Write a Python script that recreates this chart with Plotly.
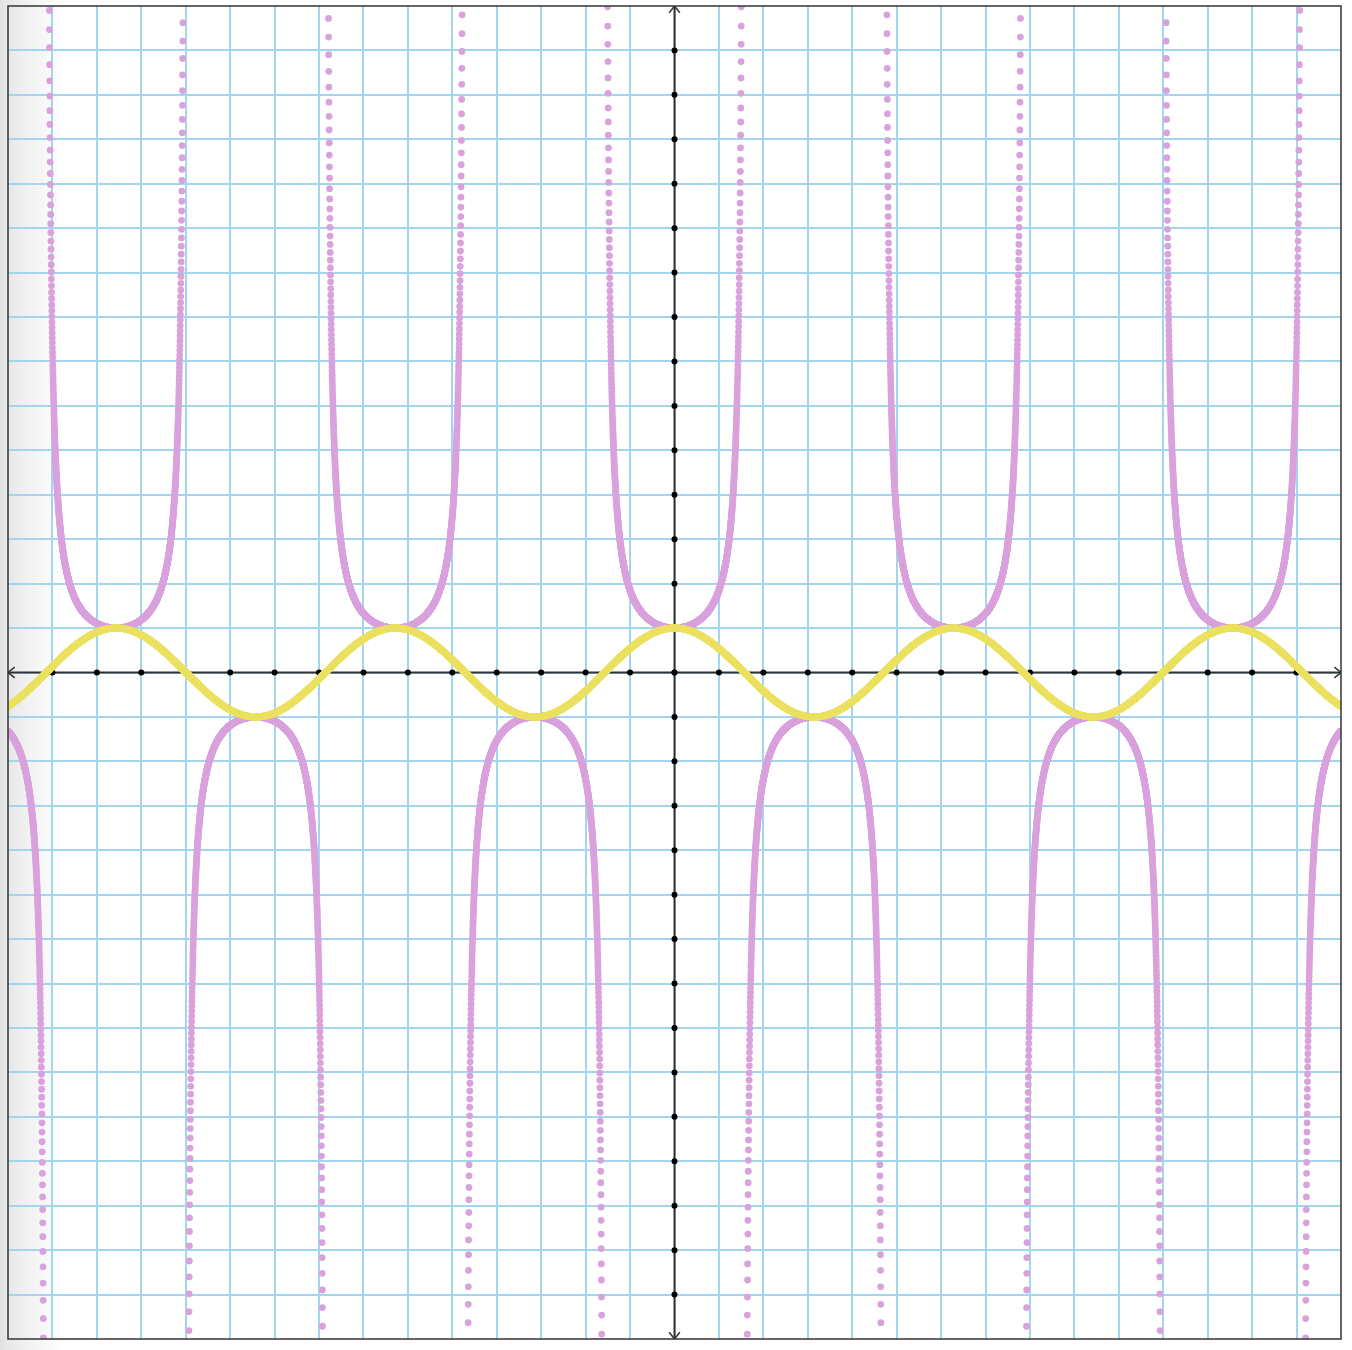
import numpy as np
import plotly.graph_objects as go

# ---- data ----
x_range = [-15, 15]
y_range = [-15, 15]
x_step = 0.002
x_vals = np.arange(x_range[0], x_range[1] + x_step / 2, x_step)
cos_vals = np.cos(x_vals)
with np.errstate(divide="ignore"):
    sec_vals = 1.0 / np.cos(x_vals)
keep = np.abs(sec_vals) < 16
sec_x = x_vals[keep]
sec_y = sec_vals[keep]
tick_positions = [i for i in range(-14, 15)]

# ---- styles ----
GRID = "#a3d6ee"
AXIS = "#333333"
PLUM = "#d9a2dd"
YELLOW = "#ebe162"

fig = go.Figure()

# axis tick dots
fig.add_trace(go.Scatter(x=tick_positions, y=[0] * len(tick_positions), mode="markers",
                         marker=dict(size=6, color="black"), hoverinfo="skip", showlegend=False))
fig.add_trace(go.Scatter(x=[0] * len(tick_positions), y=tick_positions, mode="markers",
                         marker=dict(size=6, color="black"), hoverinfo="skip", showlegend=False))

fig.add_trace(go.Scatter(x=sec_x, y=sec_y, mode="markers",
                         marker=dict(size=6.8, color=PLUM, line=dict(width=0)),
                         hoverinfo="skip", showlegend=False))
fig.add_trace(go.Scatter(x=x_vals, y=cos_vals, mode="markers",
                         marker=dict(size=6.8, color=YELLOW, line=dict(width=0)),
                         hoverinfo="skip", showlegend=False))

shapes = []
# page gradient on left
W = 1333.0
n = 32
for i in range(n):
    t = i / n
    g = int(226 + (255 - 226) * t ** 0.7)
    shapes.append(dict(type="rect", xref="paper", yref="paper",
                       x0=(-8 + i * 2) / W, x1=(-8 + (i + 1) * 2) / W, y0=-0.01, y1=1.01,
                       fillcolor=f"rgb({g},{g},{g})", line=dict(width=0), layer="below"))
# axis lines
shapes.append(dict(type="line", x0=x_range[0], x1=x_range[1], y0=0, y1=0,
                   line=dict(color=AXIS, width=2), layer="between"))
shapes.append(dict(type="line", y0=y_range[0], y1=y_range[1], x0=0, x1=0,
                   line=dict(color=AXIS, width=2), layer="between"))
# arrowheads
a, b = 0.15, 0.12
for path in [
    f"M {x_range[1]-a},{b} L {x_range[1]},0 L {x_range[1]-a},{-b}",
    f"M {x_range[0]+a},{b} L {x_range[0]},0 L {x_range[0]+a},{-b}",
    f"M {b},{y_range[1]-a} L 0,{y_range[1]} L {-b},{y_range[1]-a}",
    f"M {b},{y_range[0]+a} L 0,{y_range[0]} L {-b},{y_range[0]+a}",
]:
    shapes.append(dict(type="path", path=path, line=dict(color=AXIS, width=1.5), layer="between"))
# border
shapes.append(dict(type="rect", xref="paper", yref="paper", x0=0, x1=1, y0=0, y1=1,
                   line=dict(color=AXIS, width=1.5)))

fig.update_layout(
    width=1352, height=1350,
    margin=dict(l=8, r=11, t=6, b=11),
    paper_bgcolor="white", plot_bgcolor="rgba(0,0,0,0)",
    shapes=shapes,
    xaxis=dict(range=x_range, dtick=1, tick0=0, showgrid=True, gridcolor=GRID, gridwidth=1.5,
               zeroline=False, showticklabels=False, ticks="", fixedrange=True),
    yaxis=dict(range=y_range, dtick=1, tick0=0, showgrid=True, gridcolor=GRID, gridwidth=1.5,
               zeroline=False, showticklabels=False, ticks="", fixedrange=True),
)

fig.write_html("out.html", config={"displayModeBar": False},
               post_script="document.body.style.margin='0px';document.body.style.overflow='hidden';")
